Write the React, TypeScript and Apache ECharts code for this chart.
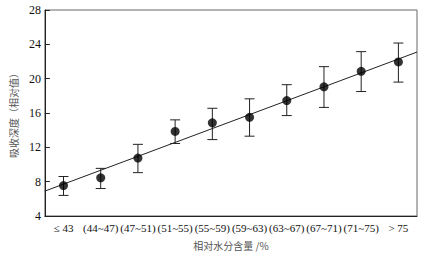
import React, { useEffect, useRef } from "react";
import * as echarts from "echarts";

const categories = ["≤ 43", "(44~47)", "(47~51)", "(51~55)", "(55~59)", "(59~63)", "(63~67)", "(67~71)", "(71~75)", "> 75"];
const means = [7.55, 8.45, 10.75, 13.85, 14.85, 15.5, 17.45, 19.05, 20.85, 21.95];
const upper = [8.6, 9.55, 12.35, 15.2, 16.55, 17.65, 19.3, 21.4, 23.15, 24.15];
const lower = [6.4, 7.2, 9.05, 12.45, 12.9, 13.3, 15.7, 16.65, 18.5, 19.6];
// fitted trend line: endpoints at the outer edges of the category band
const fitX = [-0.5, 9.5];
const fitY = [6.9, 23.1];
const yTicks = { min: 4, max: 28, interval: 4 };

export default function App() {
  const ref = useRef<HTMLDivElement>(null);
  useEffect(() => {
    if (!ref.current) return;
    const chart = echarts.init(ref.current, null, { renderer: "svg" });
    const serif = "Times New Roman, Liberation Serif, serif";
    const sans = "Noto Sans CJK SC, sans-serif";
    chart.setOption({
      animation: false,
      backgroundColor: "#fff",
      textStyle: { fontFamily: serif, color: "#111" },
      grid: { left: 40, top: 10, right: 6, bottom: 34, show: true, borderColor: "#666", borderWidth: 1 },
      xAxis: [
        {
          type: "category",
          data: categories,
          boundaryGap: true,
          axisLine: { onZero: false, lineStyle: { color: "#222", width: 1 } },
          axisTick: { inside: true, length: 5, lineStyle: { color: "#222" } },
          axisLabel: { color: "#111", fontFamily: serif, fontSize: 11, margin: 6, interval: 0 },
          name: "相对水分含量 /%",
          nameLocation: "middle",
          nameGap: 24,
          nameTextStyle: { color: "#555", fontFamily: sans, fontSize: 10 },
        },
        { type: "value", min: -0.5, max: 9.5, show: false },
      ],
      yAxis: {
        type: "value",
        min: yTicks.min,
        max: yTicks.max,
        interval: yTicks.interval,
        splitLine: { show: false },
        axisLine: { show: true, onZero: false, lineStyle: { color: "#222", width: 1 } },
        axisTick: { show: true, inside: true, length: 5, lineStyle: { color: "#222" } },
        axisLabel: { color: "#111", fontFamily: serif, fontSize: 12, margin: 4 },
        name: "吸收深度（相对值）",
        nameLocation: "middle",
        nameGap: 26,
        nameTextStyle: { color: "#555", fontFamily: sans, fontSize: 10 },
      },
      series: [
        {
          type: "line",
          xAxisIndex: 1,
          data: fitX.map((x, i) => [x, fitY[i]]),
          symbol: "none",
          lineStyle: { color: "#222", width: 1 },
          z: 2,
        },
        {
          type: "custom",
          xAxisIndex: 0,
          data: categories.map((_, i) => [i, lower[i], upper[i]]),
          renderItem: (params: any, api: any) => {
            const i = api.value(0);
            const lo = api.coord([i, api.value(1)]);
            const hi = api.coord([i, api.value(2)]);
            const half = 5;
            const style = { stroke: "#222", lineWidth: 1, fill: "none" };
            return {
              type: "group",
              children: [
                { type: "line", shape: { x1: hi[0], y1: hi[1], x2: lo[0], y2: lo[1] }, style },
                { type: "line", shape: { x1: hi[0] - half, y1: hi[1], x2: hi[0] + half, y2: hi[1] }, style },
                { type: "line", shape: { x1: lo[0] - half, y1: lo[1], x2: lo[0] + half, y2: lo[1] }, style },
              ],
            };
          },
          z: 3,
        },
        {
          type: "scatter",
          xAxisIndex: 0,
          data: means,
          symbol: "circle",
          symbolSize: 9,
          itemStyle: { color: "#000" },
          z: 4,
        },
      ],
    });
    return () => chart.dispose();
  }, []);
  return <div ref={ref} style={{ width: 423, height: 255, position: "absolute", left: 0, top: 0 }} />;
}
